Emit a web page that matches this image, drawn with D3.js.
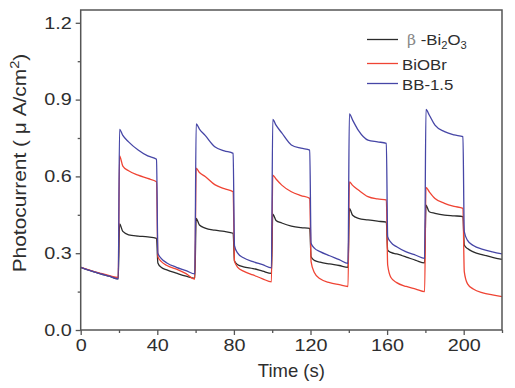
<!DOCTYPE html>
<html>
<head>
<meta charset="utf-8">
<script src="https://cdn.jsdelivr.net/npm/d3@7"></script>
<style>
  body { margin: 0; background: #fff; }
  text { font-family: "Liberation Sans", Arial, sans-serif; }
</style>
</head>
<body>
<script>
'use strict';

// time samples (s), shared by all three series
const times = [0, 5, 10, 15, 19.6,
  20.3, 22, 25, 30, 35, 39.6,
  40.3, 42, 45, 50, 55, 59.6,
  60.3, 62, 65, 70, 75, 79.6,
  80.3, 82, 85, 90, 95, 99.6,
  100.3, 102, 105, 110, 115, 119.6,
  120.3, 122, 125, 130, 135, 139.6,
  140.3, 142, 145, 150, 155, 159.6,
  160.3, 162, 165, 170, 175, 179.6,
  180.3, 182, 185, 190, 195, 199.6,
  200.3, 202, 205, 210, 215, 220];

const bi2o3 = [0.245, 0.232, 0.220, 0.210, 0.200,
  0.414, 0.385, 0.372, 0.367, 0.364, 0.358,
  0.262, 0.245, 0.235, 0.222, 0.210, 0.202,
  0.436, 0.410, 0.398, 0.390, 0.385, 0.378,
  0.270, 0.255, 0.247, 0.240, 0.230, 0.221,
  0.453, 0.428, 0.418, 0.406, 0.400, 0.397,
  0.286, 0.272, 0.265, 0.258, 0.252, 0.245,
  0.475, 0.448, 0.436, 0.430, 0.425, 0.421,
  0.312, 0.303, 0.297, 0.285, 0.272, 0.262,
  0.488, 0.462, 0.456, 0.449, 0.446, 0.443,
  0.332, 0.318, 0.305, 0.293, 0.284, 0.276];

const biobr = [0.245, 0.233, 0.222, 0.212, 0.205,
  0.680, 0.640, 0.622, 0.605, 0.592, 0.579,
  0.286, 0.268, 0.252, 0.238, 0.220, 0.199,
  0.632, 0.615, 0.600, 0.568, 0.552, 0.540,
  0.270, 0.245, 0.230, 0.215, 0.200, 0.188,
  0.605, 0.590, 0.566, 0.540, 0.525, 0.514,
  0.267, 0.225, 0.200, 0.185, 0.177, 0.170,
  0.579, 0.565, 0.547, 0.521, 0.512, 0.508,
  0.254, 0.205, 0.185, 0.170, 0.160, 0.150,
  0.557, 0.540, 0.514, 0.495, 0.483, 0.475,
  0.228, 0.180, 0.160, 0.145, 0.137, 0.130];

const bb15 = [0.245, 0.232, 0.220, 0.210, 0.200,
  0.784, 0.760, 0.735, 0.703, 0.680, 0.667,
  0.300, 0.280, 0.262, 0.245, 0.232, 0.219,
  0.805, 0.785, 0.760, 0.716, 0.700, 0.690,
  0.330, 0.300, 0.282, 0.267, 0.255, 0.243,
  0.823, 0.800, 0.770, 0.723, 0.710, 0.703,
  0.339, 0.320, 0.306, 0.290, 0.275, 0.260,
  0.844, 0.820, 0.780, 0.742, 0.735, 0.729,
  0.365, 0.342, 0.325, 0.305, 0.292, 0.280,
  0.862, 0.840, 0.800, 0.775, 0.762, 0.755,
  0.384, 0.350, 0.330, 0.315, 0.305, 0.297];

const xTicks = [0, 40, 80, 120, 160, 200];
const xMinor = [20, 60, 100, 140, 180, 220];
const yTicks = [0.0, 0.3, 0.6, 0.9, 1.2];
const yMinor = [0.15, 0.45, 0.75, 1.05];

const series = [
  { name: "bi2o3", values: bi2o3, color: "#2b2b2b" },
  { name: "BiOBr", values: biobr, color: "#ef4434" },
  { name: "BB-1.5", values: bb15, color: "#4646a6" }
];

const width = 515, height = 388;
const textColor = "#2e2e2e";
const axisColor = "#555";

const svg = d3.select("body").append("svg")
  .attr("width", width)
  .attr("height", height);

const xScale = d3.scaleLinear().domain([0, 220]).range([80.7, 502]);
const yScale = d3.scaleLinear().domain([0, 1.25]).range([330, 10]);

// the original font is a wide Helvetica; stretch Liberation Sans to match
function stretchText(sel, sx) {
  sel.each(function () {
    let t = d3.select(this);
    let x = +t.attr("x") || 0;
    let y = +t.attr("y") || 0;
    t.attr("x", 0).attr("y", 0)
      .attr("transform", "translate(" + x + "," + y + ") scale(" + sx + ",1)");
  });
}

// curves
const line = d3.line()
  .x((d, i) => xScale(times[i]))
  .y(d => yScale(d))
  .curve(d3.curveMonotoneX);

svg.selectAll(".series")
  .data(series)
  .enter()
  .append("path")
  .attr("class", "series")
  .attr("d", d => line(d.values))
  .attr("fill", "none")
  .attr("stroke", d => d.color)
  .attr("stroke-width", 1.3);

// frame
svg.append("rect")
  .attr("x", xScale(0))
  .attr("y", yScale(1.25))
  .attr("width", xScale(220) - xScale(0))
  .attr("height", yScale(0) - yScale(1.25))
  .attr("fill", "none")
  .attr("stroke", axisColor)
  .attr("stroke-width", 1.5);

// x axis
svg.append("g")
  .attr("transform", "translate(0," + yScale(0) + ")")
  .call(d3.axisBottom(xScale).tickValues(xTicks).tickSize(5).tickPadding(4).tickFormat(d3.format("d")));
svg.append("g")
  .attr("transform", "translate(0," + yScale(0) + ")")
  .call(d3.axisBottom(xScale).tickValues(xMinor).tickSize(3).tickFormat(""));

// y axis
svg.append("g")
  .attr("transform", "translate(" + xScale(0) + ",0)")
  .call(d3.axisLeft(yScale).tickValues(yTicks).tickSize(5).tickPadding(4).tickFormat(d3.format(".1f")));
svg.append("g")
  .attr("transform", "translate(" + xScale(0) + ",0)")
  .call(d3.axisLeft(yScale).tickValues(yMinor).tickSize(3).tickFormat(""));

svg.selectAll(".domain").remove();
svg.selectAll(".tick line").attr("stroke", axisColor).attr("stroke-width", 1.3);
let tickText = svg.selectAll(".tick text")
  .attr("fill", textColor)
  .style("font-size", "16.5px")
  .style("font-family", "'Liberation Sans', Arial, sans-serif");
stretchText(tickText, 1.2);

// axis labels
svg.append("text")
  .attr("x", (xScale(0) + xScale(220)) / 2)
  .attr("y", 377)
  .attr("text-anchor", "middle")
  .attr("fill", textColor)
  .style("font-size", "18.5px")
  .text("Time (s)");

let yLabel = svg.append("text")
  .attr("transform", "translate(26,163)rotate(-90)scale(1.13,1)")
  .attr("text-anchor", "middle")
  .attr("fill", textColor)
  .style("font-size", "18.5px");
yLabel.append("tspan").text("Photocurrent ( \u03bc A/cm");
yLabel.append("tspan").attr("dy", -7).style("font-size", "13px").text("2");
yLabel.append("tspan").attr("dy", 7).text(")");

// legend
const legendRows = [
  { y: 39.5, color: series[0].color },
  { y: 63.5, color: series[1].color },
  { y: 83.5, color: series[2].color }
];

svg.selectAll(".leg-line")
  .data(legendRows)
  .enter()
  .append("line")
  .attr("x1", 367)
  .attr("x2", 398)
  .attr("y1", d => d.y)
  .attr("y2", d => d.y)
  .attr("stroke", d => d.color)
  .attr("stroke-width", 1.3);

let leg1 = svg.append("text")
  .attr("x", 407)
  .attr("y", 45)
  .attr("fill", textColor)
  .style("font-size", "15px");
leg1.append("tspan").attr("fill", "#888").style("font-family", "'DejaVu Serif', serif").style("font-size", "14px").text("\u03b2");
leg1.append("tspan").text(" -Bi");
leg1.append("tspan").attr("dy", 4).style("font-size", "10px").text("2");
leg1.append("tspan").attr("dy", -4).text("O");
leg1.append("tspan").attr("dy", 4).style("font-size", "10px").text("3");

svg.append("text")
  .attr("x", 402)
  .attr("y", 69.5)
  .attr("fill", textColor)
  .style("font-size", "15px")
  .text("BiOBr");

svg.append("text")
  .attr("x", 402)
  .attr("y", 89.5)
  .attr("fill", textColor)
  .style("font-size", "15px")
  .text("BB-1.5");

stretchText(svg.selectAll("text").filter(function () {
  return +d3.select(this).attr("x") >= 400;
}), 1.12);
</script>
</body>
</html>
